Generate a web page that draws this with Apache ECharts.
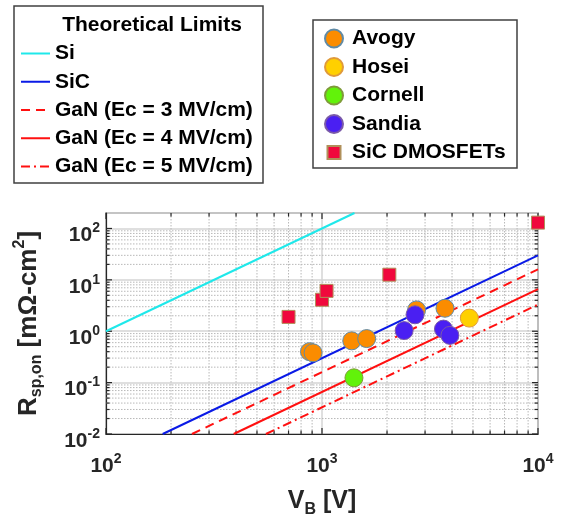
<!DOCTYPE html>
<html><head><meta charset="utf-8">
<script src="https://cdn.jsdelivr.net/npm/echarts@6/dist/echarts.min.js"></script>
<style>html,body{margin:0;padding:0;background:#fff}#c{width:568px;height:519px}</style>
</head><body><div id="c"></div>
<script>
// ---- data ----
const xTickMajor = [100, 1000, 10000];
const xTickMinor = [200, 300, 400, 500, 600, 700, 800, 900, 2000, 3000, 4000, 5000, 6000, 7000, 8000, 9000];
const yTickMajor = [0.01, 0.1, 1, 10, 100];
const yTickMinor = [0.02, 0.03, 0.04, 0.05, 0.06, 0.07, 0.08, 0.09, 0.2, 0.3, 0.4, 0.5, 0.6, 0.7, 0.8, 0.9,
  2, 3, 4, 5, 6, 7, 8, 9, 20, 30, 40, 50, 60, 70, 80, 90];

const limitSi   = [[100, 1.0], [1414, 200]];
const limitSiC  = [[183, 0.01], [10000, 30]];
const limitGaN3 = [[250, 0.01], [10000, 16]];
const limitGaN4 = [[390, 0.01], [10000, 6.6]];
const limitGaN5 = [[550, 0.01], [10000, 3.3]];

const avogy   = [[875, 0.40], [909, 0.38], [1373, 0.65], [1610, 0.72], [2740, 2.6], [3710, 2.8]];
const hosei   = [[4810, 1.8]];
const cornell = [[1406, 0.124]];
const sandia  = [[2695, 2.09], [2400, 1.03], [3650, 1.1], [3910, 0.83]];
const sicDmos = [[700, 1.9], [1000, 4.1], [1050, 6.1], [2050, 12.6], [10000, 130]];

const FONT = '"Liberation Sans", Arial, sans-serif';
const AX = '#262626';

function powLabel(v) {
  const e = Math.log10(v), r = Math.round(e);
  if (Math.abs(e - r) > 1e-6) return '';
  return '{b|10}{p|' + r + '}';
}
const labelRich = {
  b: { fontSize: 21, fontWeight: 'bold', fontFamily: FONT, color: AX, lineHeight: 28, verticalAlign: 'middle' },
  p: { fontSize: 14, fontWeight: 'bold', fontFamily: FONT, color: AX, lineHeight: 14, verticalAlign: 'top' }
};

function tickRenderer(isX) {
  return function (params, api) {
    const cs = params.coordSys;
    const v = api.value(0);
    const major = api.value(1) === 1;
    const L = major ? 6 : 3.5;
    const children = [];
    if (isX) {
      const px = api.coord([v, 1])[0];
      const y0 = cs.y, y1 = cs.y + cs.height;
      if (!major) children.push({ type: 'line', shape: { x1: px, y1: y0, x2: px, y2: y1 },
        style: { stroke: '#b8b8b8', lineWidth: 1, lineDash: [1.5, 1.5] } });
      children.push({ type: 'line', shape: { x1: px, y1: y1, x2: px, y2: y1 - L }, style: { stroke: AX, lineWidth: 1.2 } });
      children.push({ type: 'line', shape: { x1: px, y1: y0, x2: px, y2: y0 + L }, style: { stroke: AX, lineWidth: 1.2 } });
    } else {
      const py = api.coord([1000, v])[1];
      const x0 = cs.x, x1 = cs.x + cs.width;
      if (!major) children.push({ type: 'line', shape: { x1: x0, y1: py, x2: x1, y2: py },
        style: { stroke: '#b8b8b8', lineWidth: 1, lineDash: [1.5, 1.5] } });
      children.push({ type: 'line', shape: { x1: x0, y1: py, x2: x0 + L, y2: py }, style: { stroke: AX, lineWidth: 1.2 } });
      children.push({ type: 'line', shape: { x1: x1, y1: py, x2: x1 - L, y2: py }, style: { stroke: AX, lineWidth: 1.2 } });
    }
    return { type: 'group', children };
  };
}

const xTickData = xTickMajor.map(v => [v, 1]).concat(xTickMinor.map(v => [v, 0]));
const yTickData = yTickMajor.map(v => [v, 1]).concat(yTickMinor.map(v => [v, 0]));

function lineSeries(name, data, color, type) {
  return { name, type: 'line', data, symbol: 'none', showSymbol: false, clip: true, z: 2,
    lineStyle: { color, width: 2, type }, itemStyle: { color, opacity: 0 }, animation: false };
}
function scatterSeries(name, data, color, border, symbol, size) {
  return { name, type: 'scatter', data, symbol, symbolSize: size, clip: false, z: 3,
    itemStyle: { color, borderColor: border, borderWidth: 1, opacity: 1 }, animation: false };
}

const chart = echarts.init(document.getElementById('c'), null, { renderer: 'canvas' });
chart.setOption({
  animation: false,
  backgroundColor: '#fff',
  grid: { left: 106, right: 30, top: 213, bottom: 81, show: true, borderColor: AX, borderWidth: 1.2, backgroundColor: 'transparent' },
  xAxis: {
    type: 'log', logBase: 10, min: 100, max: 10000,
    axisLine: { show: true, lineStyle: { color: AX, width: 1.2 } },
    axisTick: { show: false }, minorTick: { show: false },
    splitLine: { show: true, lineStyle: { color: '#d4d4d4', width: 1.5 } },
    axisLabel: { formatter: powLabel, rich: labelRich, margin: 18, showMaxLabel: true, showMinLabel: true },
    name: '{m|V}{s|B}{m| [V]}', nameLocation: 'middle', nameGap: 50,
    nameTextStyle: { rich: {
      m: { fontSize: 25, fontWeight: 'bold', fontFamily: FONT, color: AX, lineHeight: 34, verticalAlign: 'middle' },
      s: { fontSize: 16, fontWeight: 'bold', fontFamily: FONT, color: AX, lineHeight: 16, verticalAlign: 'bottom' } } }
  },
  yAxis: {
    type: 'log', logBase: 10, min: 0.01, max: 200,
    axisLine: { show: true, lineStyle: { color: AX, width: 1.2 } },
    axisTick: { show: false }, minorTick: { show: false },
    splitLine: { show: true, lineStyle: { color: '#d4d4d4', width: 1.5 } },
    axisLabel: { formatter: powLabel, rich: labelRich, margin: 6, padding: [14, 0, 0, 0] },
    name: '{m|R}{s|sp,on}{m| [m\u03A9-cm}{p|2}{m|]}', nameLocation: 'middle', nameGap: 61, nameRotate: 90,
    nameTextStyle: { rich: {
      m: { fontSize: 26, fontWeight: 'bold', fontFamily: FONT, color: AX, lineHeight: 33, verticalAlign: 'middle' },
      s: { fontSize: 16, fontWeight: 'bold', fontFamily: FONT, color: AX, lineHeight: 16, verticalAlign: 'bottom' },
      p: { fontSize: 16, fontWeight: 'bold', fontFamily: FONT, color: AX, lineHeight: 16, verticalAlign: 'top' } } }
  },
  legend: [
    { orient: 'vertical', left: 20, top: 43, padding: 0, itemWidth: 29, itemHeight: 14, itemGap: 7.25,
      selectedMode: false, itemStyle: { opacity: 0 },
      textStyle: { fontSize: 21, fontWeight: 'bold', fontFamily: FONT, color: '#000' },
      data: ['Si', 'SiC', 'GaN (Ec = 3 MV/cm)', 'GaN (Ec = 4 MV/cm)', 'GaN (Ec = 5 MV/cm)'] },
    { orient: 'vertical', left: 324, top: 28, padding: 0, itemWidth: 26, itemHeight: 18, itemGap: 7.5,
      selectedMode: false, textStyle: { fontSize: 21, fontWeight: 'bold', fontFamily: FONT, color: '#000' },
      data: ['Avogy', 'Hosei', 'Cornell', 'Sandia',
        { name: 'SiC DMOSFETs', icon: 'path://M0,0M18,18M2.5,2.5L15.5,2.5L15.5,15.5L2.5,15.5Z' }] }
  ],
  graphic: [
    { type: 'rect', z: -10, shape: { x: 14, y: 6, width: 249, height: 177 }, style: { fill: '#fff', stroke: '#404040', lineWidth: 1.5 } },
    { type: 'text', z: 10, style: { x: 152, y: 25, text: 'Theoretical Limits', align: 'center', verticalAlign: 'middle',
      font: 'bold 21px ' + FONT, fill: '#000' } },
    { type: 'rect', z: -10, shape: { x: 313, y: 20, width: 204, height: 148 }, style: { fill: '#fff', stroke: '#404040', lineWidth: 1.5 } }
  ],
  series: [
    { type: 'custom', name: 'xticks', data: xTickData, renderItem: tickRenderer(true), z: 1, silent: true, clip: false, encode: { x: 0 } },
    { type: 'custom', name: 'yticks', data: yTickData, renderItem: tickRenderer(false), z: 1, silent: true, clip: false, encode: { y: 0 } },
    lineSeries('Si', limitSi, '#1fe8ea', 'solid'),
    lineSeries('SiC', limitSiC, '#0a1ae6', 'solid'),
    lineSeries('GaN (Ec = 3 MV/cm)', limitGaN3, '#ff1010', [9, 6]),
    lineSeries('GaN (Ec = 4 MV/cm)', limitGaN4, '#ff1010', 'solid'),
    lineSeries('GaN (Ec = 5 MV/cm)', limitGaN5, '#ff1010', [9, 4, 2, 4]),
    scatterSeries('Avogy', avogy, '#fb8c00', '#5f8aa6', 'circle', 18),
    scatterSeries('Hosei', hosei, '#ffd000', '#e09a3a', 'circle', 18),
    scatterSeries('Cornell', cornell, '#62f20a', '#7f9a3a', 'circle', 18),
    scatterSeries('Sandia', sandia, '#4a1ff2', '#7a5aa8', 'circle', 18),
    scatterSeries('SiC DMOSFETs', sicDmos, '#f0083c', '#b0905a', 'rect', 13)
  ]
});
</script>
</body></html>
